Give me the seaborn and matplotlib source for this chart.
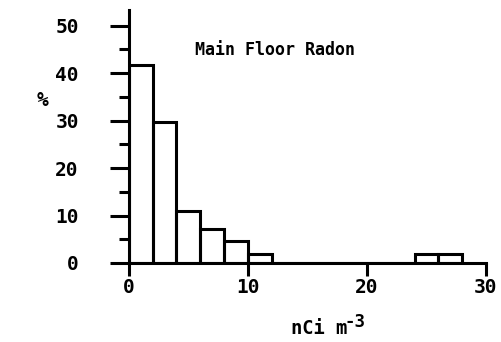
import matplotlib
matplotlib.use("Agg")
import matplotlib.pyplot as plt
import seaborn as sns
import numpy as np

# Data
bin_edges = [0, 2, 4, 6, 8, 10, 12, 14, 16, 18, 20, 22, 24, 26, 28]
percent = [41.7, 29.7, 11.0, 7.2, 4.7, 1.9, 0, 0, 0, 0, 0, 0, 1.9, 1.9]
x_ticks = [0, 10, 20, 30]
y_ticks = [0, 10, 20, 30, 40, 50]
title = "Main Floor Radon"
xlabel_main = "nCi m"
xlabel_sup = "-3"
ylabel = "%"

sns.set_style("white")
plt.rcParams['font.family'] = ['DejaVu Sans Mono', 'DejaVu Sans']
plt.rcParams['font.weight'] = 'bold'
plt.rcParams['text.color'] = 'black'
plt.rcParams['xtick.color'] = 'black'
plt.rcParams['ytick.color'] = 'black'

fig = plt.figure(figsize=(5.01, 3.42), dpi=100)
ax = fig.add_axes([0.257, 0.231, 0.713, 0.740])

centers = [(bin_edges[i] + bin_edges[i + 1]) / 2 for i in range(len(percent))]
sns.histplot(x=centers, weights=percent, bins=bin_edges, fill=False,
             element="bars", color="black", linewidth=2.2, ax=ax)

ax.set_xlim(0, 30)
ax.set_ylim(0, 53.3)
ax.set_xticks(x_ticks)
ax.set_yticks(y_ticks)
ax.set_yticks([5, 15, 25, 35, 45], minor=True)
ax.set_xticklabels([str(t) for t in x_ticks], fontsize=14, fontweight='bold', color='black')
ax.set_yticklabels([str(t) for t in y_ticks], fontsize=14, fontweight='bold', color='black')
ax.tick_params(axis='y', which='major', direction='out', length=14, width=2.2, pad=22, left=True)
ax.tick_params(axis='y', which='minor', direction='out', length=7, width=2.2, left=True)
ax.tick_params(axis='x', which='major', direction='out', length=9, width=2.2, pad=2, bottom=True)
for s in ['top', 'right']:
    ax.spines[s].set_visible(False)
for s in ['left', 'bottom']:
    ax.spines[s].set_linewidth(2.2)
    ax.spines[s].set_color('black')
ax.set_xlabel("")
ax.set_ylabel("")
ax.text(5.6, 44.8, title, fontsize=12, fontweight='bold', ha='left', va='center', color='black')
fig.text(0.085, 0.705, ylabel, fontsize=14, fontweight='bold', ha='center', va='center', color='black')
fig.text(0.581, 0.024, xlabel_main, fontsize=13.5, fontweight='bold', ha='left', va='baseline', color='black')
fig.text(0.688, 0.043, xlabel_sup, fontsize=12.5, fontweight='bold', ha='left', va='baseline', color='black')

fig.savefig("out.png", dpi=100, facecolor='white')
